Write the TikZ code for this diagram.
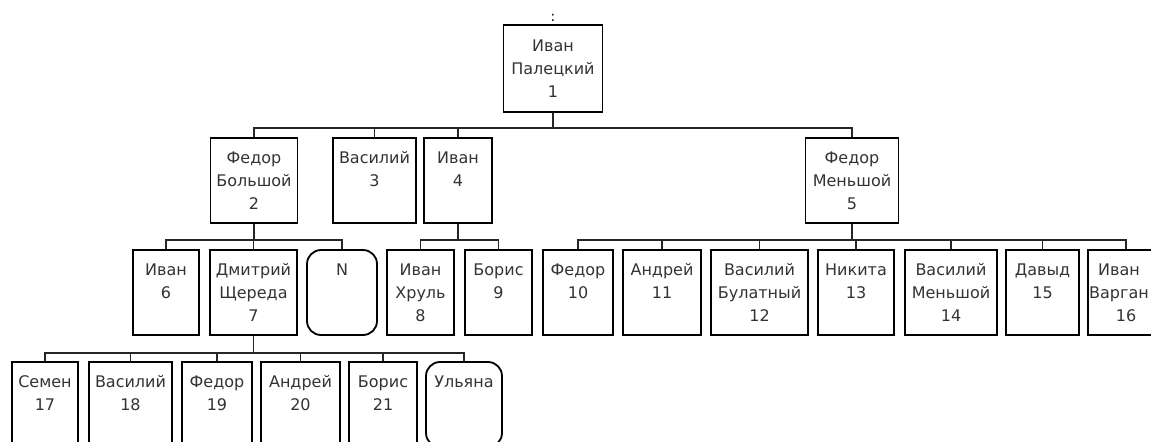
\documentclass[tikz,border=0pt]{standalone}
\usepackage{fontspec}
\setmainfont{DejaVu Sans}
\usetikzlibrary{positioning}
\tikzset{
  pbox/.style={draw, line width=0.9pt, align=center, inner sep=0pt,
    minimum height=42.5pt, text=black!80,
    font=\fontsize{8}{11.5}\selectfont},
  ubox/.style={pbox, rounded corners=7pt},
  conn/.style={line width=0.6pt, black!85},
}
\newcommand\nil{\mbox{}}
\newcommand\lft[1]{\mbox{#1\hspace{7pt}}}
\begin{document}
\begin{tikzpicture}[x=0.5pt,y=-0.5pt]
\useasboundingbox (0,0) rectangle (1151,441);
% level 1
\node[pbox, minimum width=49.5pt, minimum height=43.5pt] (b1) at (553,68.5) {Иван\\Палецкий\\1};
\node[font=\fontsize{7}{8}\selectfont, inner sep=0pt] (dot) at (553,18) {:};
% level 2
\node[pbox, minimum width=43.5pt] (b2) at (254,180.5) {Федор\\Большой\\2};
\node[pbox, minimum width=41.5pt] (b3) at (374.5,180.5) {Василий\\3\\\nil};
\node[pbox, minimum width=34pt] (b4) at (458,180.5) {Иван\\4\\\nil};
\node[pbox, minimum width=46.5pt] (b5) at (852,180.5) {Федор\\Меньшой\\5};
% level 3
\begin{scope}[every node/.append style={minimum height=41.5pt}]
\node[pbox, minimum width=33pt] (b6) at (166,292.5) {Иван\\6\\\nil};
\node[pbox, minimum width=43.5pt] (b7) at (253.5,292.5) {Дмитрий\\Щереда\\7};
\node[ubox, minimum width=35pt] (bN) at (342,292.5) {N\\\nil\\\nil};
\node[pbox, minimum width=33.5pt] (b8) at (420.5,292.5) {Иван\\Хруль\\8};
\node[pbox, minimum width=33.5pt] (b9) at (498.5,292.5) {Борис\\9\\\nil};
\node[pbox, minimum width=35pt] (b10) at (578,292.5) {Федор\\10\\\nil};
\node[pbox, minimum width=39pt] (b11) at (662,292.5) {Андрей\\11\\\nil};
\node[pbox, minimum width=48.5pt] (b12) at (759.5,292.5) {Василий\\Булатный\\12};
\node[pbox, minimum width=38pt] (b13) at (856,292.5) {Никита\\13\\\nil};
\node[pbox, minimum width=46pt] (b14) at (951,292.5) {Василий\\Меньшой\\14};
\node[pbox, minimum width=36.5pt] (b15) at (1042.5,292.5) {Давыд\\15\\\nil};
\node[pbox, minimum width=38pt] (b16) at (1126,292.5) {\lft{Иван}\\\lft{Варган}\\16};
\end{scope}
% level 4
\node[pbox, minimum width=33pt] (b17) at (45,404.5) {Семен\\17\\\nil};
\node[pbox, minimum width=41.5pt] (b18) at (130.5,404.5) {Василий\\18\\\nil};
\node[pbox, minimum width=35pt] (b19) at (217,404.5) {Федор\\19\\\nil};
\node[pbox, minimum width=39.5pt] (b20) at (300.5,404.5) {Андрей\\20\\\nil};
\node[pbox, minimum width=34pt] (b21) at (383,404.5) {Борис\\21\\\nil};
\node[ubox, minimum width=38pt] (bU) at (464,404.5) {Ульяна\\\nil\\\nil};
% connectors
\foreach \c in {b2,b3,b4,b5}
  \draw[conn] (b1.south) -- ++(0,15) -| (\c.north);
\foreach \c in {b6,b7,bN}
  \draw[conn] (b2.south) -- ++(0,16) -| (\c.north);
\foreach \c in {b8,b9}
  \draw[conn] (b4.south) -- ++(0,16) -| (\c.north);
\foreach \c in {b10,b11,b12,b13,b14,b15,b16}
  \draw[conn] (b5.south) -- ++(0,16) -| (\c.north);
\foreach \c in {b17,b18,b19,b20,b21,bU}
  \draw[conn] (b7.south) -- ++(0,17) -| (\c.north);
\end{tikzpicture}
\end{document}
